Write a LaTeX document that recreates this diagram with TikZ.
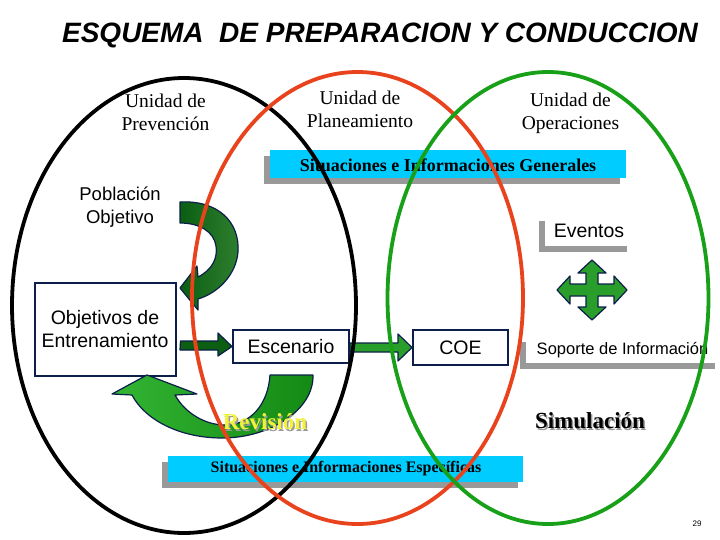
\documentclass[tikz,border=0pt]{standalone}
\usepackage{fontspec}
\setmainfont{Liberation Serif}
\newfontfamily\arial{Liberation Sans}
\begin{document}
\begin{tikzpicture}[x=1pt,y=-1pt,
  serif18/.style={font=\fontsize{19.5}{23.5}\selectfont, align=center, inner sep=0pt, anchor=base},
  sans17/.style={font=\arial\fontsize{19.5}{23}\selectfont, align=center, inner sep=0pt},
  navybox/.style={draw=navy, line width=2pt, fill=white},
  blockarrow/.style={draw=navy, line width=1.2pt, line join=round},
  ring/.style={line width=3.8pt}
]
\definecolor{navy}{HTML}{0C1F4A}
\definecolor{cyanbox}{HTML}{00CCFF}
\definecolor{shadowgray}{HTML}{999999}
\definecolor{darkgreen}{HTML}{0B5E12}
\definecolor{darkgreenlight}{HTML}{2F7F2F}
\definecolor{midgreen}{HTML}{2A9E2A}
\definecolor{lightgreen}{HTML}{33B533}
\definecolor{deepgreen}{HTML}{148A14}
\definecolor{ringred}{HTML}{E8431C}
\definecolor{ringgreen}{HTML}{18A018}
\definecolor{revyellow}{HTML}{F2F23A}
\useasboundingbox (0,0) rectangle (720,540);
\fill[white] (0,0) rectangle (720,540);

% title
\node[font=\arial\bfseries\itshape\fontsize{28}{30}\selectfont, anchor=base, inner sep=0pt] (title) at (380,43) {ESQUEMA\ \ DE PREPARACION Y CONDUCCION};

% unit labels (anchor = baseline of last line)
\node[serif18] (prev) at (165.5,131) {Unidad de\\Prevención};
\node[serif18] (plan) at (360,128) {Unidad de\\Planeamiento};
\node[serif18] (oper) at (570.5,130) {Unidad de\\Operaciones};

% general info box
\fill[shadowgray] (264,156) rectangle (620,184);
\fill[cyanbox] (270,150) rectangle (626,178);
\node[font=\bfseries\fontsize{18}{20}\selectfont, inner sep=0pt] (gen) at (448,165) {Situaciones e Informaciones Generales};

% specific info box
\fill[shadowgray] (162,462) rectangle (518,488);
\fill[cyanbox] (168,456) rectangle (523,482);
\node[font=\bfseries\fontsize{16}{18}\selectfont, inner sep=0pt] (esp) at (346,469) {Situaciones e Informaciones Específicas};

% poblacion objetivo
\node[sans17, font=\arial\fontsize{18.5}{23}\selectfont] (pob) at (120,207) {Población\\Objetivo};

% eventos
\fill[shadowgray] (539,221) rectangle (627,252);
\fill[white] (545,215) rectangle (633,246);
\node[sans17] (evt) at (589,231) {Eventos};

% soporte
\fill[shadowgray] (520,342) rectangle (715,369);
\fill[white] (526,336) rectangle (721,363);
\node[font=\arial\fontsize{16.5}{18}\selectfont, inner sep=0pt] (sop) at (622.5,350) {Soporte de Información};

% boxes
\node[navybox, sans17, minimum width=141pt, minimum height=93pt] (obj) at (105,329.5) {Objetivos de\\Entrenamiento};
\node[navybox, sans17, minimum width=116pt, minimum height=33pt] (esc) at (291,346.5) {Escenario};
\node[navybox, sans17, minimum width=95pt, minimum height=35pt] (coe) at (460.5,347.5) {COE};

% straight block arrows
\filldraw[blockarrow, fill=darkgreen] (obj.east |- 0,341) ++(4,0) -- (218,341) -- (218,333) -- (esc.west) -- (218,356) -- (218,350) -- (180,350) -- cycle;
\filldraw[blockarrow, fill=midgreen] (esc.east |- 0,343) -- (398,343) -- (398,334) -- (coe.west) -- (398,361) -- (398,352) -- (esc.east |- 0,352) -- cycle;

% curved arrow top (dark green)
\path[blockarrow, draw, left color=darkgreen, right color=darkgreenlight] (180,202) .. controls (218,200) and (240,222) .. (238,252)
  .. controls (236,275) and (218,293) .. (198,299) -- (198,310) -- (180,288) -- (197,266) -- (198,277)
  .. controls (212,270) and (218,258) .. (216,246) .. controls (214,232) and (200,223) .. (180,223) -- cycle;

% curved arrow bottom (green)
\path[blockarrow, draw, left color=lightgreen, right color=deepgreen] (270,375) -- (313,375) .. controls (314,410) and (270,438) .. (222,438)
  .. controls (180,438) and (145,420) .. (132,395) -- (112,394) -- (147,375) -- (197,394) -- (175,395)
  .. controls (185,413) and (205,425) .. (225,425) .. controls (250,425) and (268,405) .. (270,375) -- cycle;

% four-way arrow
\filldraw[blockarrow, fill=midgreen, shift={(592,290)}] (0,-30) -- (14,-17) -- (6,-17) -- (6,-6) -- (22,-6) -- (22,-14) -- (35,0) -- (22,14) -- (22,6) -- (6,6) -- (6,17) -- (14,17) -- (0,30) -- (-14,17) -- (-6,17) -- (-6,6) -- (-22,6) -- (-22,14) -- (-35,0) -- (-22,-14) -- (-22,-6) -- (-6,-6) -- (-6,-17) -- (-14,-17) -- cycle;

% shadowed titles
\node[font=\bfseries\fontsize{23}{25}\selectfont, text=shadowgray, inner sep=0pt] at (266.5,423.5) {Revisión};
\node[font=\bfseries\fontsize{23}{25}\selectfont, text=revyellow, inner sep=0pt] (rev) at (265,422) {Revisión};
\node[font=\bfseries\fontsize{23}{25}\selectfont, text=shadowgray, inner sep=0pt] at (591.5,422.5) {Simulación};
\node[font=\bfseries\fontsize{23}{25}\selectfont, inner sep=0pt] (sim) at (590,421) {Simulación};

% page number
\node[font=\arial\fontsize{8}{9}\selectfont, inner sep=0pt] (pg) at (697,524) {29};

% rings
\draw[ring, black] (184,305.5) ellipse [x radius=172, y radius=227.5];
\draw[ring, ringred] (357.5,298) ellipse [x radius=165.5, y radius=226];
\draw[ring, ringgreen] (548,298) ellipse [x radius=160.5, y radius=226];
\end{tikzpicture}
\end{document}
